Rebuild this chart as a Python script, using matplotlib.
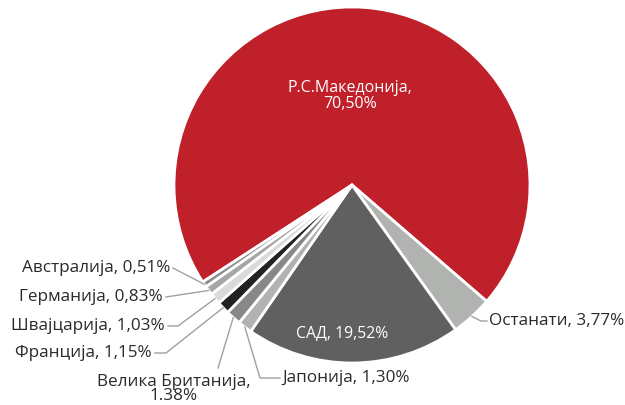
import numpy as np
import matplotlib
matplotlib.use("Agg")
import matplotlib.pyplot as plt

plt.rcParams['font.family'] = ['Open Sans', 'DejaVu Sans']

countries = ['Р.С.Македонија', 'Останати', 'САД', 'Јапонија', 'Велика Британија',
             'Франција', 'Швајцарија', 'Германија', 'Австралија']
shares = [70.50, 3.77, 19.52, 1.30, 1.38, 1.15, 1.03, 0.83, 0.51]
share_labels = ['70,50%', '3,77%', '19,52%', '1,30%', '1.38%',
                '1,15%', '1,03%', '0,83%', '0,51%']
colors = ['#C0202A', '#B1B3B1', '#5F605F', '#B1B3B1', '#888888',
          '#222222', '#DADADA', '#A6A6A6', '#8C8C8C']

fig = plt.figure(figsize=(6.25, 4.05), dpi=100)
ax = fig.add_axes([0, 0, 1, 1])

cx, cy, R = 352, 185, 178
# y axis is flipped, so counterclock=True draws clockwise on screen
wedges, _ = ax.pie(shares, colors=colors, startangle=-213, counterclock=True,
                   center=(cx, cy), radius=R, frame=True,
                   wedgeprops=dict(edgecolor='white', linewidth=2))
ax.set_xlim(0, 625)
ax.set_ylim(405, 0)
ax.axis('off')


def rim(w, f=1.0):
    a = np.deg2rad((w.theta1 + w.theta2) / 2)
    return cx + R * f * np.cos(a), cy + R * f * np.sin(a)


ax.text(350, 96, countries[0] + ',\n' + share_labels[0], color='white',
        fontsize=11.5, ha='center', va='center', linespacing=1.0)
ax.text(342, 333, countries[2] + ', ' + share_labels[2], color='white',
        fontsize=11.3, ha='center', va='center')

lc = '#A0A0A0'
tc = '#2a2a2a'
fs = 12.3
# label text position, elbow points (pixels)
outside = {
    1: ((489, 321, 'left'), [(487, 321), (481, 321)]),
    3: ((282, 378, 'left'), [(280, 378), (260, 378)]),
    5: ((152, 353, 'right'), [(155, 353), (166, 353)]),
    6: ((165, 326, 'right'), [(168, 326), (178, 326)]),
    7: ((163, 297, 'right'), [(166, 297)]),
    8: ((170, 268, 'right'), [(173, 268)]),
}
for i, ((tx, ty, ha), pts) in outside.items():
    ax.text(tx, ty, countries[i] + ', ' + share_labels[i], fontsize=fs,
            ha=ha, va='center', color=tc)
    px, py = rim(wedges[i], 1.0)
    xs = [p[0] for p in pts] + [px]
    ys = [p[1] for p in pts] + [py]
    ax.plot(xs, ys, color=lc, lw=1)

# Velika Britanija, two lines
ax.text(174, 389, countries[4] + ',\n' + share_labels[4], fontsize=fs,
        ha='center', va='center', color=tc, linespacing=0.9)
px, py = rim(wedges[4], 1.0)
ax.plot([218, px], [368, py], color=lc, lw=1)

fig.savefig('out.png', dpi=100)
